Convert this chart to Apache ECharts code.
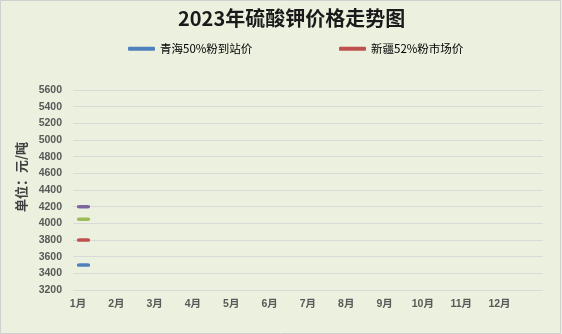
<!DOCTYPE html>
<html>
<head>
<meta charset="utf-8">
<script src="https://cdn.jsdelivr.net/npm/echarts@6/dist/echarts.min.js"></script>
<style>
  html, body { margin: 0; padding: 0; background: #ffffff; }
  #chart { width: 562px; height: 334px; }
</style>
</head>
<body>
<div id="chart"></div>
<script>
// Months of 2023
const months = ['1月', '2月', '3月', '4月', '5月', '6月', '7月', '8月', '9月', '10月', '11月', '12月'];

// Potassium sulfate prices, yuan per tonne (only January reported so far)
const qinghai50 = [3500];   // 青海50%粉到站价
const xinjiang52 = [3800];  // 新疆52%粉市场价
const series3 = [4050];
const series4 = [4200];

// Price axis ticks
const yMin = 3200;
const yMax = 5600;
const yStep = 200;

const seriesNames = ['青海50%粉到站价', '新疆52%粉市场价', '系列3', '系列4'];
const seriesData = [qinghai50, xinjiang52, series3, series4];
const seriesColors = ['#4F81BD', '#C0504D', '#9BBB59', '#8064A2'];

const chart = echarts.init(document.getElementById('chart'), null, { renderer: 'canvas' });

const labelFont = {
  fontFamily: 'Liberation Sans, Noto Sans CJK SC, sans-serif',
  fontSize: 10.5,
  fontWeight: 'bold',
  color: '#595959'
};

const legendText = { fontFamily: 'Noto Sans CJK SC, sans-serif', fontSize: 11.5, color: '#000' };

const option = {
  backgroundColor: '#EBF1DE',
  animation: false,
  title: {
    text: '2023年硫酸钾价格走势图',
    left: 173,
    top: 3,
    textStyle: {
      fontFamily: 'Noto Sans CJK SC, sans-serif',
      fontSize: 20,
      fontWeight: 'bold',
      color: '#1a1a1a'
    }
  },
  legend: [
    {
      data: [seriesNames[0]],
      left: 128,
      top: 43,
      padding: 0,
      icon: 'roundRect',
      itemWidth: 27,
      itemHeight: 4,
      textStyle: legendText
    },
    {
      data: [seriesNames[1]],
      left: 339,
      top: 43,
      padding: 0,
      icon: 'roundRect',
      itemWidth: 27,
      itemHeight: 4,
      textStyle: legendText
    }
  ],
  graphic: [
    {
      type: 'rect',
      silent: true,
      shape: { x: 0.5, y: 0.5, width: 560, height: 333 },
      style: { fill: null, stroke: '#d0d0d0', lineWidth: 1 }
    }
  ],
  grid: [
    // gridline / value-axis area
    { left: 73, right: 19, top: 90, bottom: 44 },
    // month positions
    { left: 83.5, right: 57, top: 90, bottom: 44 }
  ],
  xAxis: [
    { type: 'category', gridIndex: 0, data: months, show: false },
    {
      type: 'category',
      gridIndex: 1,
      data: months,
      boundaryGap: false,
      axisLine: { show: false },
      axisTick: { show: false },
      axisLabel: Object.assign({ margin: 9, interval: 0, padding: [0, 11, 0, 0] }, labelFont)
    }
  ],
  yAxis: [
    {
      type: 'value',
      gridIndex: 0,
      min: yMin,
      max: yMax,
      interval: yStep,
      axisLine: { show: false },
      axisTick: { show: false },
      splitLine: { lineStyle: { color: '#d9d9d9', width: 1 } },
      axisLabel: Object.assign({ margin: 11, formatter: v => String(v) }, labelFont),
      name: '单位：元/吨',
      nameLocation: 'middle',
      nameGap: 42,
      nameRotate: 90,
      nameTextStyle: {
        fontFamily: 'Noto Sans CJK SC, sans-serif',
        fontSize: 13,
        fontWeight: 'bold',
        color: '#404040',
        padding: [0, 0, 0, 26]
      }
    },
    { type: 'value', gridIndex: 1, min: yMin, max: yMax, interval: yStep, show: false }
  ],
  series: seriesData.map((data, i) => ({
    name: seriesNames[i],
    type: 'line',
    xAxisIndex: 1,
    yAxisIndex: 1,
    data: data,
    color: seriesColors[i],
    lineStyle: { width: 2.5 },
    symbol: 'roundRect',
    symbolSize: [13, 3.5],
    itemStyle: { color: seriesColors[i] },
    z: 3
  }))
};

chart.setOption(option);
</script>
</body>
</html>
